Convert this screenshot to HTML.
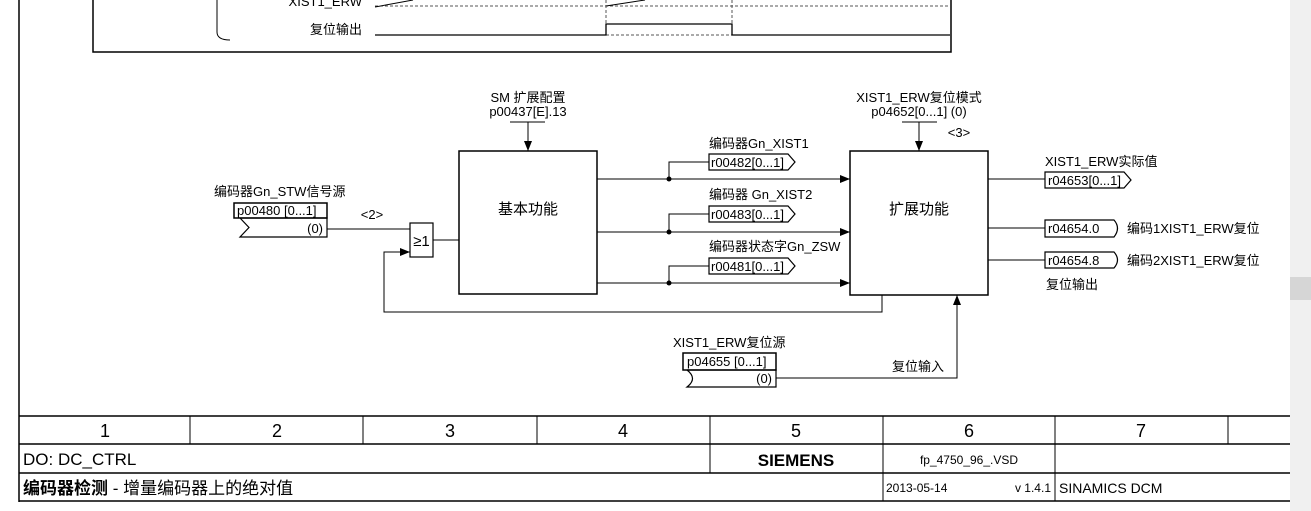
<!DOCTYPE html>
<html><head><meta charset="utf-8"><style>
html,body{margin:0;padding:0;background:#fff;}
svg{display:block;font-family:"Liberation Sans","Noto Sans CJK SC",sans-serif;}
text{fill:#000;}
</style></head><body>
<svg width="1311" height="511" viewBox="0 0 1311 511" xmlns="http://www.w3.org/2000/svg">
<defs><marker id="a" markerWidth="10" markerHeight="8" refX="10" refY="4" orient="auto" markerUnits="userSpaceOnUse"><path d="M0,0 L10,4 L0,8 z" fill="#000"/></marker></defs>
<rect x="1290" y="0" width="21" height="511" fill="#f0f0f0"/>
<rect x="1290" y="277" width="21" height="23" fill="#d6d6d6"/>
<g stroke="#000" fill="none">
<line x1="19" y1="0" x2="19" y2="502" stroke-width="1.5"/>
<polyline points="93,0 93,52 951,52 951,0" stroke-width="1.5"/>
<path d="M217,0 L217,32 Q217,40 230,40" stroke-width="1"/>
<line x1="375" y1="6" x2="950" y2="6" stroke-dasharray="3,2" stroke="#555"/>
<line x1="375" y1="7" x2="413" y2="0"/>
<line x1="606" y1="6" x2="645" y2="0"/>
<line x1="606" y1="0" x2="606" y2="35" stroke-dasharray="3,2" stroke="#555"/>
<line x1="732" y1="0" x2="732" y2="35" stroke-dasharray="3,2" stroke="#555"/>
<line x1="606" y1="35" x2="732" y2="35" stroke-dasharray="3,2" stroke="#555"/>
<polyline points="375,35 606,35 606,24 732,24 732,35 950,35" stroke-width="1.3"/>
<rect x="459" y="151" width="138" height="143" stroke-width="1.5"/>
<rect x="850" y="151" width="138" height="144" stroke-width="1.5"/>
<rect x="410" y="223" width="23" height="34" stroke-width="1.2"/>
<line x1="510" y1="122" x2="545" y2="122"/><line x1="528" y1="122" x2="528" y2="151" marker-end="url(#a)"/>
<line x1="902" y1="122" x2="937" y2="122"/><line x1="919" y1="122" x2="919" y2="151" marker-end="url(#a)"/>
<rect x="234" y="203" width="93" height="15" stroke-width="1.5"/>
<path d="M240,218 L327,218 L327,237 L240,237 L249,227.5 Z" stroke-width="1.2"/>
<line x1="327" y1="229" x2="410" y2="229"/>
<line x1="433" y1="240" x2="459" y2="240"/>
<polyline points="882,295 882,312 384,312 384,252 410,252" marker-end="url(#a)"/>
<line x1="597" y1="179" x2="850" y2="179" marker-end="url(#a)"/>
<line x1="597" y1="232" x2="850" y2="232" marker-end="url(#a)"/>
<line x1="597" y1="283" x2="850" y2="283" marker-end="url(#a)"/>
<polyline points="669,179 669,162 709,162"/>
<polyline points="669,232 669,214 709,214"/>
<polyline points="669,283 669,266 709,266"/>
<path d="M709,154 L788,154 L795,162 L788,170 L709,170 Z" stroke-width="1.2"/>
<path d="M709,206 L788,206 L795,214 L788,222 L709,222 Z" stroke-width="1.2"/>
<path d="M709,258 L788,258 L795,266 L788,274 L709,274 Z" stroke-width="1.2"/>
<line x1="988" y1="179" x2="1045" y2="179"/>
<line x1="988" y1="228" x2="1045" y2="228"/>
<line x1="988" y1="260" x2="1045" y2="260"/>
<path d="M1045,172 L1124,172 L1131,180 L1124,188 L1045,188 Z" stroke-width="1.2"/>
<path d="M1045,220 L1114,220 Q1121,228 1114,237 L1045,237 Z" stroke-width="1.2"/>
<path d="M1045,252 L1114,252 Q1121,260 1114,268 L1045,268 Z" stroke-width="1.2"/>
<rect x="683" y="353" width="93" height="17" stroke-width="1.5"/>
<path d="M687,370 L776,370 L776,387 L687,387 Q698,378.5 687,370" stroke-width="1.2"/>
<polyline points="776,378 957,378 957,295" marker-end="url(#a)"/>
<g stroke-width="1.5">
<line x1="19" y1="416" x2="1290" y2="416"/>
<line x1="19" y1="444" x2="1290" y2="444"/>
<line x1="19" y1="473" x2="1290" y2="473"/>
<line x1="19" y1="501" x2="1290" y2="501"/>
</g>
<g stroke-width="1">
<line x1="190" y1="416" x2="190" y2="444"/><line x1="363" y1="416" x2="363" y2="444"/>
<line x1="537" y1="416" x2="537" y2="444"/><line x1="710" y1="416" x2="710" y2="473"/>
<line x1="883" y1="416" x2="883" y2="501"/><line x1="1055" y1="416" x2="1055" y2="501"/>
<line x1="1228" y1="416" x2="1228" y2="444"/>
</g>
</g>
<circle cx="669" cy="179" r="2.5"/><circle cx="669" cy="232" r="2.5"/><circle cx="669" cy="283" r="2.5"/>
<g font-size="13">
<text x="362" y="34" text-anchor="end">复位输出</text>
<text x="362" y="6" text-anchor="end">XIST1_ERW</text>
<text x="528" y="102" text-anchor="middle">SM 扩展配置</text>
<text x="528" y="116" text-anchor="middle">p00437[E].13</text>
<text x="919" y="102" text-anchor="middle">XIST1_ERW复位模式</text>
<text x="919" y="116" text-anchor="middle">p04652[0...1] (0)</text>
<text x="959" y="137" text-anchor="middle">&lt;3&gt;</text>
<text x="372" y="219" text-anchor="middle">&lt;2&gt;</text>
<text x="214" y="196">编码器Gn_STW信号源</text>
<text x="237" y="215">p00480 [0...1]</text>
<text x="323" y="233" text-anchor="end">(0)</text>
<text x="421.5" y="246" text-anchor="middle" font-size="15">≥1</text>
<text x="528" y="214" text-anchor="middle" font-size="15">基本功能</text>
<text x="919" y="214" text-anchor="middle" font-size="15">扩展功能</text>
<text x="709" y="148">编码器Gn_XIST1</text>
<text x="711" y="167">r00482[0...1]</text>
<text x="709" y="199">编码器 Gn_XIST2</text>
<text x="711" y="219">r00483[0...1]</text>
<text x="709" y="251">编码器状态字Gn_ZSW</text>
<text x="711" y="271">r00481[0...1]</text>
<text x="1045" y="166">XIST1_ERW实际值</text>
<text x="1048" y="185">r04653[0...1]</text>
<text x="1048" y="233">r04654.0</text>
<text x="1127" y="233">编码1XIST1_ERW复位</text>
<text x="1048" y="265">r04654.8</text>
<text x="1127" y="265">编码2XIST1_ERW复位</text>
<text x="1046" y="289">复位输出</text>
<text x="673" y="347">XIST1_ERW复位源</text>
<text x="687" y="366">p04655 [0...1]</text>
<text x="772" y="383" text-anchor="end">(0)</text>
<text x="892" y="371">复位输入</text>
</g>
<g font-size="18" text-anchor="middle">
<text x="105" y="437">1</text><text x="277" y="437">2</text><text x="450" y="437">3</text>
<text x="623" y="437">4</text><text x="796" y="437">5</text><text x="969" y="437">6</text><text x="1141" y="437">7</text>
</g>
<text x="23" y="465" font-size="17">DO: DC_CTRL</text>
<text x="796" y="466" font-size="17" font-weight="bold" text-anchor="middle">SIEMENS</text>
<text x="969" y="464" font-size="12" text-anchor="middle">fp_4750_96_.VSD</text>
<text x="23" y="494" font-size="17"><tspan font-weight="bold">编码器检测</tspan> - 增量编码器上的绝对值</text>
<text x="886" y="492" font-size="12">2013-05-14</text>
<text x="1051" y="492" font-size="12" text-anchor="end">v 1.4.1</text>
<text x="1059" y="493" font-size="14">SINAMICS DCM</text>
</svg>
</body></html>
